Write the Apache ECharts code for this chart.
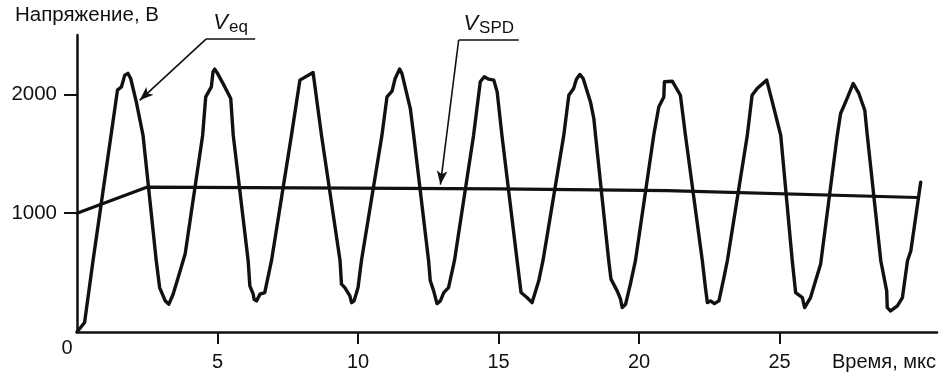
<!DOCTYPE html>
<html>
<head>
<meta charset="utf-8">
<script src="https://cdn.jsdelivr.net/npm/echarts@6/dist/echarts.min.js"></script>
<style>html,body{margin:0;padding:0;background:#fff}#c{width:940px;height:378px}</style>
</head>
<body>
<div id="c"></div>
<script>
// ---- data (time in µs, voltage in V) ----
const veqTime = [0,0.27,0.57,1.21,1.44,1.58,1.70,1.81,1.91,2.11,2.35,2.82,2.94,3.14,3.27,3.42,3.60,3.85,4.47,4.58,4.78,4.84,4.90,5.00,5.26,5.47,5.56,
  6.09,6.15,6.27,6.30,6.39,6.51,6.68,6.92,7.63,7.93,7.97,8.40,8.70,
  9.36,9.41,9.53,9.71,9.77,9.86,10.00,10.12,10.85,11.03,11.21,11.32,11.48,11.56,11.86,11.98,
  12.51,12.57,12.69,12.81,12.93,13.05,13.22,13.43,14.11,14.35,14.49,14.65,14.83,14.95,15.12,
  15.66,15.80,16.01,16.19,16.25,16.43,16.58,17.32,17.50,17.67,17.77,17.89,18.01,18.27,18.39,18.45,
  18.92,19.00,19.22,19.34,19.40,19.52,19.69,19.87,20.52,20.70,20.88,20.90,21.18,21.47,21.65,
  22.25,22.36,22.43,22.54,22.68,22.84,23.02,23.14,23.85,24.02,24.20,24.54,24.74,24.92,25.04,
  25.45,25.57,25.81,25.89,26.10,26.46,27.05,27.17,27.35,27.62,27.82,28.03,28.12,
  28.60,28.81,28.83,28.95,29.19,29.37,29.55,29.67,30.02];
const veqVolt = [0,80,600,1655,2036,2063,2162,2177,2134,1937,1655,600,374,262,234,318,459,659,1655,1979,2063,2190,2213,2177,2063,1965,1655,
  600,389,318,276,262,318,332,600,1655,2120,2134,2185,1655,
  600,403,374,304,247,262,374,600,1655,1979,2027,2134,2213,2177,1881,1655,
  600,431,346,239,262,332,374,600,1655,2106,2148,2128,2120,2021,1655,
  600,332,290,247,262,431,600,1655,1993,2050,2128,2168,2134,1937,1796,1655,
  600,445,346,276,205,234,403,600,1655,1894,1979,2106,2111,1993,1655,
  600,374,247,262,239,262,459,600,1655,1993,2050,2120,1937,1768,1655,
  600,332,290,205,290,572,1655,1839,1937,2092,2008,1867,1655,
  600,346,205,177,220,290,600,684,1261];
const vspdTime = [0,2.48,8,15,21,29.9];
const vspdVolt = [1000,1219,1214,1205,1190,1132];
const xTicks = [5,10,15,20,25];
const yTicks = [1000,2000];
const yAxisName = 'Напряжение, В';
const xAxisName = 'Время, мкс';
const originLabel = '0';
// annotation anchors (data units)
const veqNote = {name:'eq', start:[4.59,2465], end:[6.34,2465], tip:[2.23,1950]};
const spdNote = {name:'SPD', start:[13.58,2458], end:[15.72,2458], tip:[12.93,1240]};

const FONT = 'Liberation Sans';
const INK = '#111';
const zip = (a,b) => a.map((v,i)=>[v,b[i]]);

function note(n){
  return [
    [{coord:n.start, symbol:'none'},{coord:n.end, symbol:'none',
      label:{show:true, position:'insideMiddleTop', distance:3,
        formatter:'{v|V}{s|'+n.name+'}',
        rich:{v:{fontFamily:FONT,fontStyle:'italic',fontSize:22,color:INK},
              s:{fontFamily:FONT,fontSize:17,color:INK,padding:[9,0,0,1]}}}}],
    [{coord:n.start, symbol:'none'},{coord:n.tip, symbol:'arrow', symbolSize:[8,14]}]
  ];
}

const chart = echarts.init(document.getElementById('c'), null, {renderer:'canvas'});
chart.setOption({
  animation:false,
  backgroundColor:'#fff',
  grid:{left:77, right:3, top:35, bottom:46, containLabel:false},
  xAxis:{type:'value', min:0, max:30.6,
    name:xAxisName, nameLocation:'end', nameGap:-1,
    nameTextStyle:{fontFamily:FONT, fontSize:20, color:INK, align:'right', verticalAlign:'top', padding:[20,0,0,0]},
    axisLine:{lineStyle:{color:INK,width:2.5}},
    axisTick:{show:true, length:12, inside:false, customValues:xTicks, lineStyle:{color:INK,width:2}},
    axisLabel:{customValues:xTicks, margin:20, fontFamily:FONT, fontSize:20, color:INK, formatter:v=>String(v)},
    splitLine:{show:false}},
  yAxis:{type:'value', min:0, max:2500,
    name:yAxisName, nameLocation:'end', nameGap:9,
    nameTextStyle:{fontFamily:FONT, fontSize:20.5, color:INK, align:'center', padding:[0,0,0,20]},
    axisLine:{lineStyle:{color:INK,width:2.5}},
    axisTick:{show:true, length:13, customValues:yTicks, lineStyle:{color:INK,width:2}},
    axisLabel:{customValues:yTicks, margin:20, fontFamily:FONT, fontSize:20.5, color:INK, formatter:v=>String(v)},
    splitLine:{show:false}},
  series:[
    {type:'line', name:'Veq', data:zip(veqTime,veqVolt), showSymbol:false, symbol:'none',
     lineStyle:{color:INK, width:3.4, join:'round', cap:'round'}, z:3,
     markLine:{silent:true, animation:false, symbol:['none','none'],
       lineStyle:{color:INK, width:1.6, type:'solid'},
       label:{show:false},
       data:[...note(veqNote), ...note(spdNote)]}},
    {type:'line', name:'Vspd', data:zip(vspdTime,vspdVolt), showSymbol:false, symbol:'none',
     lineStyle:{color:INK, width:3.2, join:'round', cap:'round'}, z:3}
  ]
});
const o = chart.convertToPixel({gridIndex:0},[0,0]);
chart.setOption({graphic:[{type:'text', x:o[0]-10, y:o[1]+16,
  style:{text:originLabel, fontFamily:FONT, fontSize:20, fill:INK, align:'center', verticalAlign:'middle'}}]});
</script>
</body>
</html>
